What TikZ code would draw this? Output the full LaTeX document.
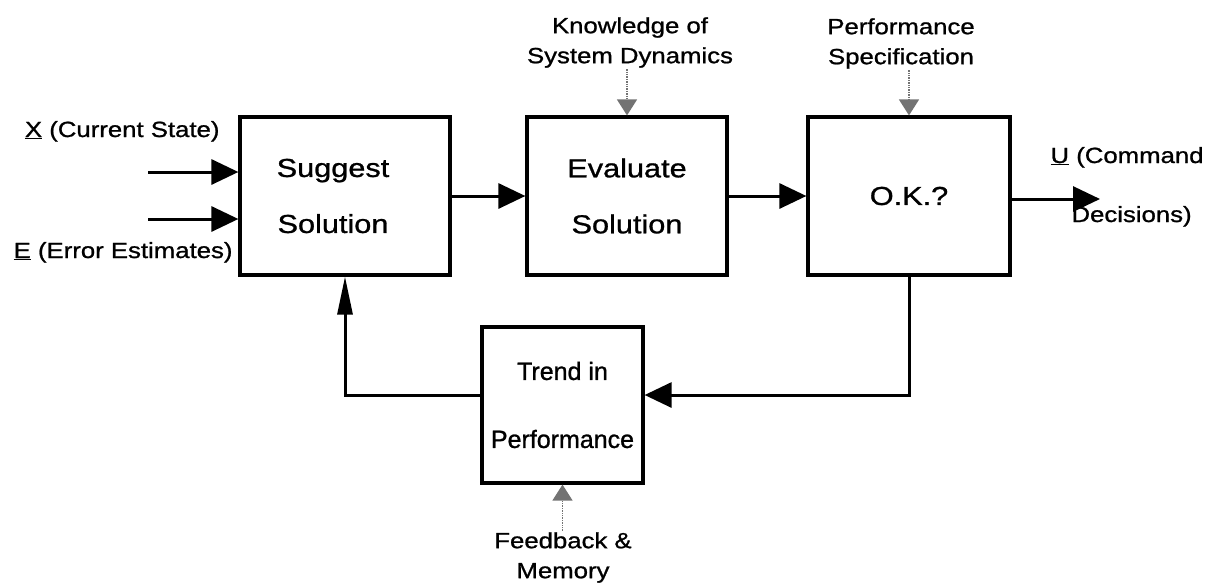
\documentclass[tikz,border=0pt]{standalone}
\usepackage{fontspec}
\setmainfont[FakeBold=1]{Liberation Sans}
\newfontfamily\boxfont[FakeStretch=1.18, FakeBold=1]{Liberation Sans}
\newfontfamily\lblfont[FakeStretch=1.17, FakeBold=1]{Liberation Sans}
\usetikzlibrary{positioning, arrows.meta, calc}

\begin{document}
\begin{tikzpicture}[
                    % one unit is one pixel of the sheet, y runs downwards
                    x=1pt, y=-1pt,
                    line width=3pt,
                    % Default style for the blocks
                    block/.style={draw, line width=3.2pt, inner sep=0pt, align=center,
                                  minimum height=158pt, font=\boxfont\fontsize{26}{56}\selectfont},
                    lbl/.style={inner sep=0pt, align=center, font=\lblfont\fontsize{22}{30}\selectfont},
                    fwd/.style={-{Triangle[length=27pt, width=25pt]}},
                    upw/.style={-{Triangle[length=38pt, width=15pt]}},
                    feed/.style={color=black!55, line width=1.4pt, densely dotted,
                                 -{Triangle[length=16pt, width=20pt, fill=black!55]}}
                  ]
                  \useasboundingbox (0,0) rectangle (1218,587);

                  % --- Blocks ---
                  \def\Yrow{196} % y-center of the upper row
                  \node[block, minimum width=210pt] (sug) at (345,\Yrow) {};
                  \node[align=center, font=\boxfont\fontsize{26}{56}\selectfont]
                        (sugtext) at ([xshift=-12pt]sug.center) {Suggest\\Solution};
                  \node[block, minimum width=200pt] (eval) at (627,\Yrow) {Evaluate\\Solution};
                  \node[block, minimum width=202pt] (ok) at (909,\Yrow) {O.K.?};
                  \node[block, minimum width=161pt, minimum height=156pt,
                        font=\fontsize{25}{68}\selectfont] (trend) at (562.5,405) {Trend in\\Performance};

                  % --- Inputs on the left ---
                  \node[lbl, anchor=base east] (xlbl) at (221,137) {\underline{X} (Current State)};
                  \node[lbl, anchor=base east] (elbl) at (234,258) {\underline{E} (Error Estimates)};
                  \coordinate (xin) at (148,172);
                  \coordinate (ein) at (148,219);
                  \draw[fwd] (xin) -- (xin -| sug.west);
                  \draw[fwd] (ein) -- (ein -| sug.west);

                  % --- Outside knowledge, fed in from above and below ---
                  \node[lbl] (know) at (630,42.5) {Knowledge of\\System Dynamics};
                  \node[lbl] (spec) at (901,43.5) {Performance\\Specification};
                  \node[lbl] (mem) at (563,557.5) {Feedback \&\\Memory};
                  \draw[feed] (eval.north |- know.south) -- (eval.north);
                  \draw[feed] (ok.north |- spec.south) -- (ok.north);
                  \draw[feed] (trend.south |- mem.north) -- (trend.south);

                  % --- Forward path ---
                  \draw[fwd] (sug.east) -- (eval.west);
                  \draw[fwd] (eval.east) -- (ok.west);

                  % Output
                  \node[lbl, anchor=base west] (ulbl) at (1049,163) {\underline{U} (Command};
                  \node[lbl, anchor=base west] (dlbl) at (1070,222) {Decisions)};
                  \coordinate (uout) at (1100,199);
                  \draw[fwd] (ok.east |- uout) -- (uout);

                  % --- Loop back through the trend block ---
                  \draw[fwd] (ok.south) |- ([yshift=10pt]trend.east);
                  \draw[upw] ([yshift=10pt]trend.west) -| (sug.south);

\end{tikzpicture}
\end{document}
